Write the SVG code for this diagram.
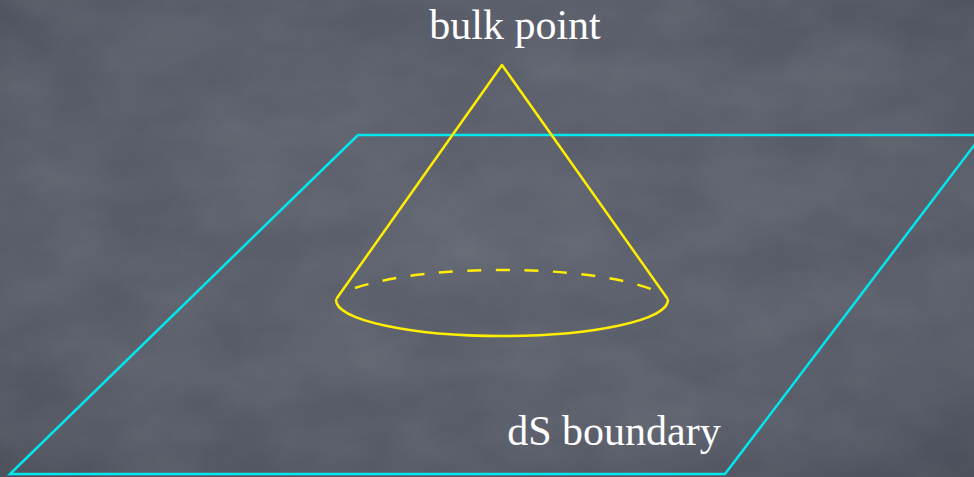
<svg xmlns="http://www.w3.org/2000/svg" width="974" height="477" viewBox="0 0 974 477">
  <defs>
    <radialGradient id="bg" cx="50%" cy="45%" r="75%">
      <stop offset="0" stop-color="#5c616d"/>
      <stop offset="0.7" stop-color="#555a66"/>
      <stop offset="1" stop-color="#4a4f5a"/>
    </radialGradient>
    <filter id="grain" x="0" y="0" width="100%" height="100%">
      <feTurbulence type="fractalNoise" baseFrequency="0.01 0.018" numOctaves="4" seed="7" result="n"/>
      <feColorMatrix in="n" type="matrix" values="0 0 0 0 1  0 0 0 0 1  0 0 0 0 1  0 0 0 0.12 -0.03"/>
    </filter>
    <style>
      .plane{fill:none;stroke:#00e8ee;stroke-width:2.5;stroke-linejoin:miter}
      .cone{fill:none;stroke:#ffee00;stroke-width:2.5;stroke-linecap:round;stroke-linejoin:round}
      .dash{stroke-dasharray:14 14.5;stroke-linecap:butt}
      .lbl{font-family:"Liberation Serif","Times New Roman",serif;font-size:42px;fill:#ffffff;text-anchor:middle}
    </style>
  </defs>
  <rect id="background" x="0" y="0" width="974" height="477" fill="url(#bg)"/>
  <rect x="0" y="0" width="974" height="477" filter="url(#grain)"/>
  <g id="plane">
    <polygon class="plane" points="358,135 982,135 725,474 10,474"/>
  </g>
  <g id="cone">
    <path class="cone" d="M337,298 L502,65 L667,298"/>
    <path class="cone" d="M336,300 A166,36 0 0 0 668,300"/>
    <path class="cone dash" d="M355,288 C400,274 450,270 502,270 C560,270 620,276 656,291"/>
  </g>
  <g id="connectors"/>
  <g id="label-bulk">
    <text class="lbl" x="515" y="39">bulk point</text>
  </g>
  <g id="label-ds">
    <text class="lbl" x="614" y="445">dS boundary</text>
  </g>
</svg>
